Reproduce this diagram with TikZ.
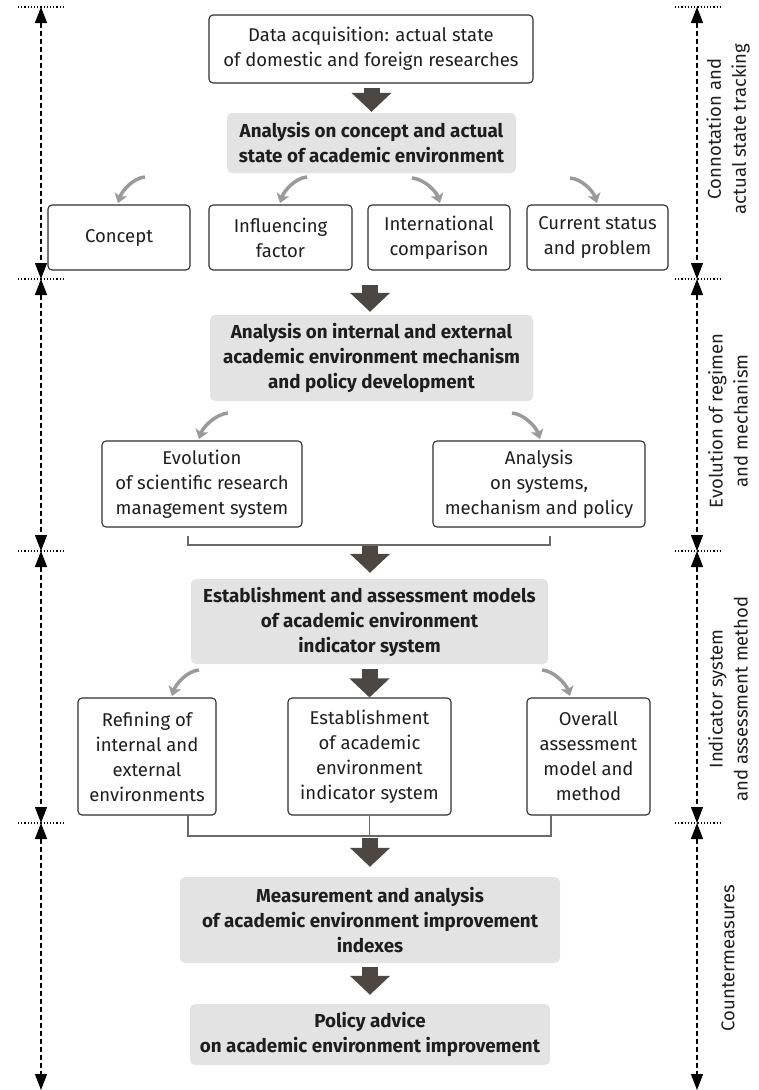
\documentclass[tikz,border=0pt]{standalone}
\usepackage{fontspec}
\setmainfont{Fira Sans}
\usetikzlibrary{arrows.meta,calc}
\definecolor{boxline}{HTML}{2E2E2E}
\definecolor{grayfill}{HTML}{E3E3E3}
\definecolor{bigarrow}{HTML}{4D4743}
\definecolor{curvcol}{HTML}{9A9A9A}
\definecolor{brackcol}{HTML}{6A6A6A}
\definecolor{txt}{HTML}{1E1E1E}
\tikzset{
  whitebox/.style={draw=boxline, line width=1.1pt, rounded corners=4pt, align=center, inner sep=0pt, text=txt},
  graybox/.style={fill=grayfill, rounded corners=5pt, align=center, inner sep=0pt, text=txt, font=\fontsize{18.8}{25}\selectfont\bfseries},
  bigarr/.style={draw=bigarrow, line width=16pt, -{Triangle[width=39pt,length=19pt]}, fill=bigarrow},
  curv/.style={draw=curvcol, line width=3.5pt, -{Stealth[length=9pt,width=13pt,inset=2pt]}},
  brack/.style={draw=brackcol, line width=1.4pt},
  dotln/.style={line width=1.1pt, dash pattern=on 1.2pt off 2pt},
  dimarr/.style={line width=1.2pt, dash pattern=on 5pt off 3pt, {Triangle[width=12pt,length=16pt]}-{Triangle[width=12pt,length=16pt]}},
  sidelab/.style={rotate=90, align=center, text=txt, inner sep=0pt}
}
\begin{document}
\begin{tikzpicture}[x=1pt,y=-1pt, font=\fontsize{18.5}{25}\selectfont]
\useasboundingbox (0,0) rectangle (758,1090);

% ---------- section 1
\node[whitebox, minimum width=324pt, minimum height=68pt] (b1) at (371,49)
  {Data acquisition: actual state\\of domestic and foreign researches};
\node[graybox, minimum width=289pt, minimum height=60pt] (g1) at (371.5,143)
  {Analysis on concept and actual\\state of academic environment};
\node[whitebox, minimum width=142pt, minimum height=65pt] (c1) at (119,237.5) {Concept};
\node[whitebox, minimum width=143pt, minimum height=65pt] (c2) at (280.5,237.5) {Influencing\\factor};
\node[whitebox, minimum width=142pt, minimum height=65pt] (c3) at (439,237.5) {International\\comparison};
\node[whitebox, minimum width=141pt, minimum height=65pt] (c4) at (597.5,237.5) {Current status\\and problem};

\draw[bigarr, shorten <=4pt, shorten >=1pt] (b1.south -| g1.north) -- (g1.north);

\coordinate (s1) at (145,177); \coordinate (e1) at (118,203);
\coordinate (s2) at (307,177); \coordinate (e2) at (280,203);
\coordinate (s3) at (412,178); \coordinate (e3) at (440,203);
\coordinate (s4) at (570,178); \coordinate (e4) at (597,203);
\draw[curv] (s1) .. controls ($(s1)+(-12,1)$) and ($(e1)+(4,-12)$) .. (e1);
\draw[curv] (s2) .. controls ($(s2)+(-12,1)$) and ($(e2)+(4,-12)$) .. (e2);
\draw[curv] (s3) .. controls ($(s3)+(12,1)$) and ($(e3)+(-4,-12)$) .. (e3);
\draw[curv] (s4) .. controls ($(s4)+(12,1)$) and ($(e4)+(-4,-12)$) .. (e4);

% ---------- section 2
\node[graybox, minimum width=323pt, minimum height=86pt] (g2) at (371.5,358)
  {Analysis on internal and external\\academic environment mechanism\\and policy development};
\coordinate (a2top) at (370,285);
\draw[bigarr, shorten >=3pt] (a2top) -- (a2top |- g2.north);

\node[whitebox, minimum width=200pt, minimum height=86pt] (ev1) at (202,484)
  {Evolution\\of scientific research\\management system};
\node[whitebox, minimum width=212pt, minimum height=86pt] (ev2) at (539,484)
  {Analysis\\on systems,\\mechanism and policy};

\coordinate (s5) at (228,413); \coordinate (e5) at (199,439);
\coordinate (s6) at (512,413); \coordinate (e6) at (540,439);
\draw[curv] (s5) .. controls ($(s5)+(-12,1)$) and ($(e5)+(4,-12)$) .. (e5);
\draw[curv] (s6) .. controls ($(s6)+(12,1)$) and ($(e6)+(-4,-12)$) .. (e6);

\coordinate (br1l) at (188,536); \coordinate (br1r) at (550,536);
\draw[brack] (br1l) -- ++(0,9) -| (br1r);

% ---------- section 3
\node[graybox, minimum width=357pt, minimum height=85pt] (g3) at (369.5,621.5)
  {Establishment and assessment models\\of academic environment\\indicator system};
\coordinate (a3top) at (370,546);
\draw[bigarr, shorten >=6pt] (a3top) -- (a3top |- g3.north);

\node[whitebox, minimum width=138pt, minimum height=117pt] (r1) at (147,756.5)
  {Refining of\\internal and\\external\\environments};
\node[whitebox, minimum width=163pt, minimum height=117pt] (r2) at (369.5,756.5)
  {Establishment\\of academic\\environment\\indicator system};
\node[whitebox, minimum width=123pt, minimum height=117pt] (r3) at (588.5,756.5)
  {Overall\\assessment\\model and\\method};
\draw[bigarr, shorten <=5pt] (g3.south) -- (r2.north);

\coordinate (s7) at (199,670); \coordinate (e7) at (172,696);
\coordinate (s8) at (542,670); \coordinate (e8) at (570,696);
\draw[curv] (s7) .. controls ($(s7)+(-12,1)$) and ($(e7)+(4,-12)$) .. (e7);
\draw[curv] (s8) .. controls ($(s8)+(12,1)$) and ($(e8)+(-4,-12)$) .. (e8);

\coordinate (br2l) at (188,815); \coordinate (br2r) at (551,815);
\draw[brack] (br2l) -- ++(0,21) -| (br2r);
\draw[brack] (r2.south) -- (r2.south |- br2l) -- ++(0,21);

% ---------- section 4
\node[graybox, minimum width=380pt, minimum height=86pt] (g4) at (370,920)
  {Measurement and analysis\\of academic environment improvement\\indexes};
\node[graybox, minimum width=360pt, minimum height=61pt] (g5) at (370,1034.5)
  {Policy advice\\on academic environment improvement};
\coordinate (a5top) at (370,838);
\draw[bigarr, shorten >=10pt] (a5top) -- (a5top |- g4.north);
\draw[bigarr, shorten <=4pt, shorten >=9pt] (g4.south) -- (g5.north);

% ---------- side dimension lines
\foreach \yy in {7,279,551,823} {
  \draw[dotln] (18,\yy) -- (65,\yy);
  \draw[dotln] (675,\yy) -- (722,\yy);
}
\coordinate (L0) at (41,7);   \coordinate (L1) at (41,279);
\coordinate (L2) at (41,551); \coordinate (L3) at (41,823); \coordinate (L4) at (41,1090);
\coordinate (R0) at (697,7);   \coordinate (R1) at (697,279);
\coordinate (R2) at (697,551); \coordinate (R3) at (697,823); \coordinate (R4) at (697,1090);
\draw[dimarr] (L0) -- (L1);
\draw[dimarr] (L1) -- (L2);
\draw[dimarr] (L2) -- (L3);
\draw[dimarr] (L3) -- (L4);
\draw[dimarr] (R0) -- (R1);
\draw[dimarr] (R1) -- (R2);
\draw[dimarr] (R2) -- (R3);
\draw[dimarr] (R3) -- (R4);

\node[sidelab] (lab1) at (728,129) {Connotation and\\actual state tracking};
\node[sidelab] (lab2) at (728,421) {Evolution of regimen\\and mechanism};
\node[sidelab] (lab3) at (728,699) {Indicator system\\and assessment method};
\node[sidelab] (lab4) at (728,958) {Countermeasures};
\end{tikzpicture}
\end{document}
